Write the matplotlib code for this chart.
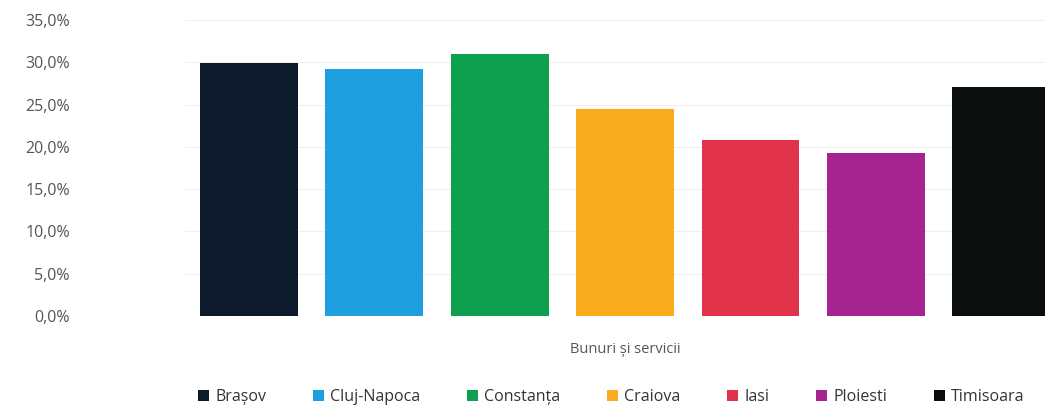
import matplotlib.pyplot as plt
from matplotlib.ticker import FuncFormatter

# data
cities = ['Brașov', 'Cluj-Napoca', 'Constanța', 'Craiova', 'Iasi', 'Ploiesti', 'Timisoara']
values = [29.9, 29.2, 31.0, 24.5, 20.8, 19.3, 27.1]
colors = ['#0c1a2c', '#1e9fe0', '#0e9f4f', '#f8ac1e', '#e0334a', '#a5248f', '#0a0f0e']
category = 'Bunuri și servicii'

plt.rcParams['font.family'] = ['Open Sans', 'DejaVu Sans']

fig = plt.figure(figsize=(10.45, 4.11), dpi=100)
ax = fig.add_axes([185 / 1045, 95 / 411, (1045 - 185) / 1045, (316 - 20) / 411])

for i, (city, val, col) in enumerate(zip(cities, values, colors)):
    ax.bar(i, val, width=0.78, color=col, label=city, zorder=3)

ax.set_ylim(0, 35)
ax.set_xlim(-0.51, 6.35)
ax.set_yticks(range(0, 36, 5))
ax.yaxis.set_major_formatter(FuncFormatter(lambda v, p: f'{v:.1f}%'.replace('.', ',')))
ax.set_xticks([3])
ax.set_xticklabels([category])
ax.tick_params(axis='both', length=0, colors='#555555', labelsize=11.5)
ax.tick_params(axis='y', pad=83)
ax.tick_params(axis='x', pad=19, labelsize=10.5)
ax.grid(axis='y', color='#f0f0f0', linewidth=0.8, zorder=0)
for s in ax.spines.values():
    s.set_visible(False)

fig.legend(loc='lower center', bbox_to_anchor=(0.585, -0.02), ncol=7, frameon=False,
           handlelength=0.7, handleheight=0.7, handletextpad=0.4, columnspacing=2.9,
           fontsize=11.5, labelcolor='#333333')

plt.savefig('out.png', dpi=100)
